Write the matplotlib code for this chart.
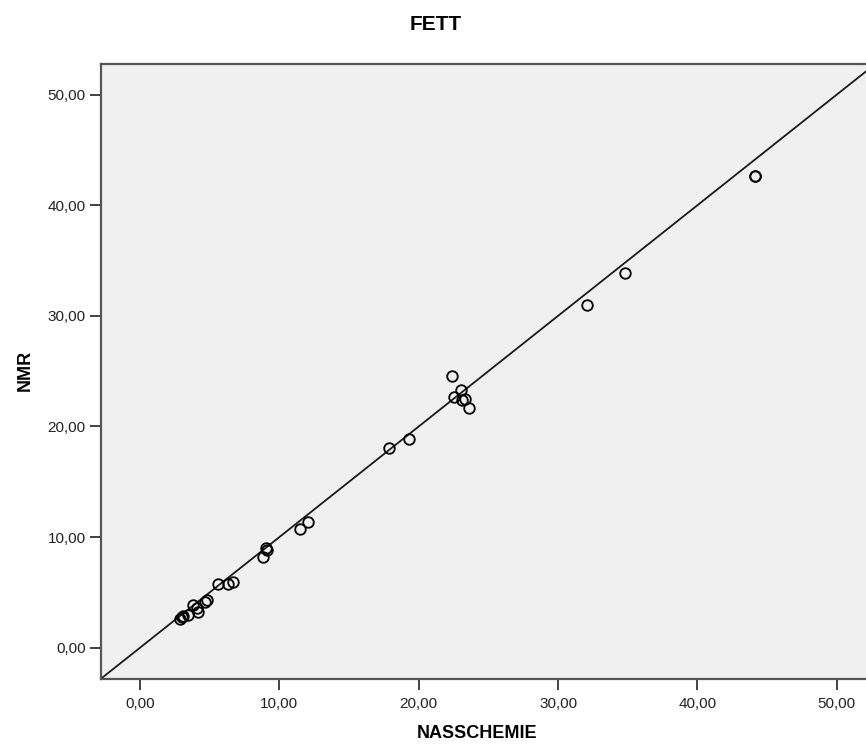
import matplotlib
matplotlib.use('Agg')
import matplotlib.pyplot as plt
from matplotlib.ticker import FuncFormatter

plt.rcParams['font.family'] = ['Liberation Sans', 'DejaVu Sans']

# NASSCHEMIE vs NMR
nasschemie = [44.15, 44.10, 34.82, 32.09, 22.40, 22.50, 23.04, 23.10, 23.33, 23.60,
              19.31, 17.87, 12.08, 11.49, 9.14, 9.05, 8.81, 6.70, 6.34, 5.62,
              4.79, 4.67, 3.83, 4.07, 4.19, 3.47, 2.99, 2.87, 3.07]
nmr = [42.64, 42.60, 33.88, 30.99, 24.57, 22.67, 23.30, 22.40, 22.48, 21.67,
       18.87, 18.06, 11.34, 10.73, 8.83, 9.05, 8.23, 5.97, 5.73, 5.78,
       4.31, 4.16, 3.86, 3.56, 3.25, 2.96, 2.75, 2.60, 2.87]
ticks = [0, 10, 20, 30, 40, 50]

fig = plt.figure(figsize=(8.66, 7.44), dpi=100)
ax = fig.add_axes([101 / 866, 65 / 744, 765 / 866, 615 / 744])
ax.set_facecolor('#f0f0f0')

ax.set_xlim(-2.8, 52.1)
ax.set_ylim(-2.83, 52.77)

# identity line
ax.plot([-2.8, 55], [-2.8, 55], color='#1a1a1a', lw=1.3, zorder=2)
ax.plot(nasschemie, nmr, 'o', mfc='none', mec='black', ms=7.6, mew=1.3, zorder=3)

fmt = FuncFormatter(lambda v, p: f'{v:.2f}'.replace('.', ','))
ax.set_xticks(ticks)
ax.set_yticks(ticks)
ax.xaxis.set_major_formatter(fmt)
ax.yaxis.set_major_formatter(fmt)
ax.tick_params(direction='out', length=8, width=1.3, color='#333333',
               labelsize=11, labelcolor='#222222')
ax.tick_params(axis='x', pad=5)
ax.tick_params(axis='y', pad=3)

for s in ['left', 'top', 'bottom']:
    ax.spines[s].set_color('#555555')
    ax.spines[s].set_linewidth(1.6)
ax.spines['right'].set_visible(False)

fig.text(436 / 866, 1 - 24 / 744, 'FETT', ha='center', va='center',
         fontsize=15, fontweight='bold')
fig.text(477 / 866, 1 - 733 / 744, 'NASSCHEMIE', ha='center', va='center',
         fontsize=13, fontweight='bold')
fig.text(25 / 866, 1 - 370 / 744, 'NMR', ha='center', va='center',
         rotation=90, fontsize=13, fontweight='bold')

fig.savefig('out.png', dpi=100)
